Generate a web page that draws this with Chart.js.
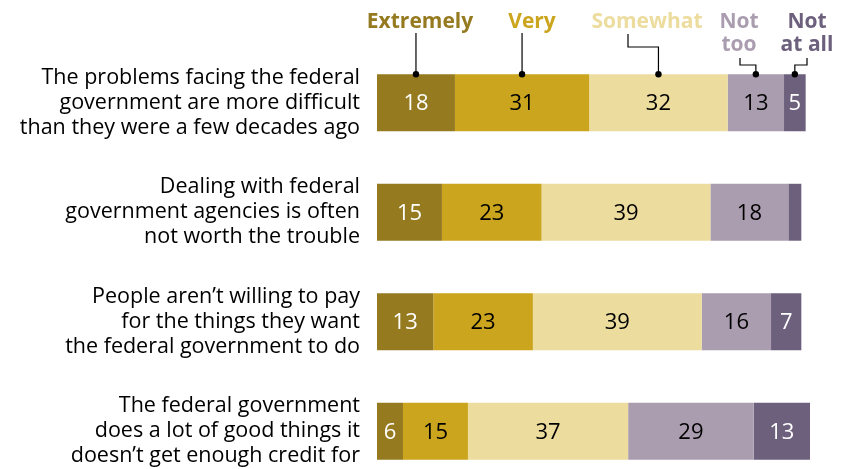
<!DOCTYPE html>
<html>
<head>
<meta charset="utf-8">
<script src="https://cdn.jsdelivr.net/npm/chart.js@4.4.1/dist/chart.umd.min.js"></script>
<style>
  html, body { margin: 0; padding: 0; background: #fff; overflow: hidden; }
  #wrap { position: relative; width: 843px; height: 500px; }
</style>
</head>
<body>
<div id="wrap"><canvas id="trustChart"></canvas></div>
<script>
// Statements (one bar each)
const statements = [
  ['The problems facing the federal', 'government are more difficult', 'than they were a few decades ago'],
  ['Dealing with federal', 'government agencies is often', 'not worth the trouble'],
  ['People aren\u2019t willing to pay', 'for the things they want', 'the federal government to do'],
  ['The federal government', 'does a lot of good things it', 'doesn\u2019t get enough credit for']
];

// Share answering each way, %
const extremely = [18, 15, 13, 6];
const very      = [31, 23, 23, 15];
const somewhat  = [32, 39, 39, 37];
const notToo    = [13, 18, 16, 29];
const notAtAll  = [5, 3, 7, 13];

const seriesNames = ['Extremely', 'Very', 'Somewhat', 'Not too', 'Not at all'];
const fills = ['#957a20', '#cba51d', '#ecdc9e', '#aa9db0', '#6d607d'];
const valueColors = ['#fff', '#000', '#000', '#000', '#fff'];

const FONT = '"Open Sans", sans-serif';

// Numbers printed in the middle of each segment
const segmentValues = {
  id: 'segmentValues',
  afterDatasetsDraw(chart) {
    const ctx = chart.ctx;
    ctx.save();
    ctx.font = '22px ' + FONT;
    ctx.textAlign = 'center';
    ctx.textBaseline = 'middle';
    chart.data.datasets.forEach((ds, i) => {
      chart.getDatasetMeta(i).data.forEach((bar, j) => {
        const v = ds.data[j];
        if (v < 5) return;
        const left = Math.min(bar.x, bar.base);
        const w = Math.abs(bar.x - bar.base);
        ctx.fillStyle = valueColors[i];
        ctx.fillText(v, left + w / 2, bar.y + 1);
      });
    });
    ctx.restore();
  }
};

// Series names above the first bar, with leader lines to its segments
const topLabels = {
  id: 'topLabels',
  afterDraw(chart) {
    const ctx = chart.ctx;
    const bars = chart.data.datasets.map((ds, i) => chart.getDatasetMeta(i).data[0]);
    const mids = bars.map(b => (b.x + b.base) / 2);
    const top = bars[0].y - bars[0].height / 2;

    ctx.save();
    ctx.font = 'bold 21px ' + FONT;
    ctx.textAlign = 'center';
    ctx.textBaseline = 'alphabetic';
    const spots = [
      { lines: ['Extremely'], x: 420 },
      { lines: ['Very'], x: 532 },
      { lines: ['Somewhat'], x: 647 },
      { lines: ['Not', 'too'], x: 739 },
      { lines: ['Not', 'at all'], x: 807 }
    ];
    spots.forEach((s, i) => {
      ctx.fillStyle = fills[i];
      s.lines.forEach((t, k) => ctx.fillText(t, s.x, 28 + k * 23));
    });

    ctx.strokeStyle = '#000';
    ctx.lineWidth = 1.2;
    const paths = [
      [[mids[0], 33], [mids[0], top]],
      [[mids[1], 33], [mids[1], top]],
      [[628, 34], [628, 47], [mids[2], 47], [mids[2], top]],
      [[740, 58], [740, 65], [mids[3], 65], [mids[3], top]],
      [[807, 58], [807, 65], [mids[4], 65], [mids[4], top]]
    ];
    paths.forEach(p => {
      ctx.beginPath();
      p.forEach(([x, y], k) => k ? ctx.lineTo(x, y) : ctx.moveTo(x, y));
      ctx.stroke();
    });
    ctx.fillStyle = '#000';
    mids.forEach(x => {
      ctx.beginPath();
      ctx.arc(x, top, 3.2, 0, Math.PI * 2);
      ctx.fill();
    });
    ctx.restore();
  }
};

const seriesData = [extremely, very, somewhat, notToo, notAtAll];

new Chart(document.getElementById('trustChart'), {
  type: 'bar',
  data: {
    labels: statements,
    datasets: seriesData.map((d, i) => ({
      label: seriesNames[i],
      data: d,
      backgroundColor: fills[i],
      borderWidth: 0,
      barPercentage: 0.52,
      categoryPercentage: 1
    }))
  },
  options: {
    indexAxis: 'y',
    responsive: true,
    maintainAspectRatio: false,
    animation: false,
    layout: { padding: { top: 48, right: 33, bottom: 14, left: 0 } },
    plugins: { legend: { display: false }, tooltip: { enabled: false } },
    scales: {
      x: { stacked: true, min: 0, max: 100, display: false },
      y: {
        stacked: true,
        grid: { display: false, drawTicks: false },
        border: { display: false },
        ticks: {
          color: '#000',
          padding: 17,
          font: { family: FONT, size: 21.5, lineHeight: 1.16 }
        },
        afterFit(scale) {
          scale.width = 377;
          // labels may spill into the outer padding; don't shrink the plot for them
          scale.paddingTop = 0;
          scale.paddingBottom = 0;
        }
      }
    }
  },
  plugins: [segmentValues, topLabels]
});
</script>
</body>
</html>
